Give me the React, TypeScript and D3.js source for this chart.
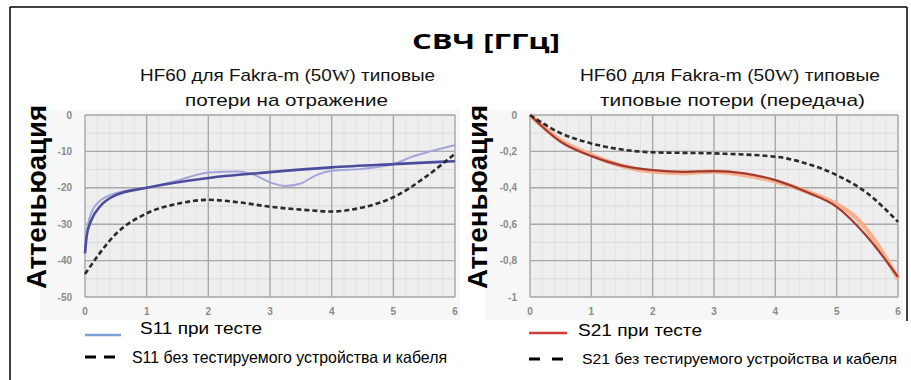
import * as d3 from 'd3';

// frequency, GHz
const freqTicks = [0, 1, 2, 3, 4, 5, 6];
const s11Ticks = [0, -10, -20, -30, -40, -50];
const s21Ticks = [0, -0.2, -0.4, -0.6, -0.8, -1];

// S11 (return loss), dB
const s11FitF = [0, 0.03, 0.1, 0.25, 0.5, 1, 2, 3, 4, 5, 6];
const s11FitV = [-38, -33, -29, -25, -22, -20, -17.3, -15.7, -14.4, -13.5, -12.7];
const s11MeasF = [0, 0.05, 0.1, 0.25, 0.5, 0.75, 1, 1.5, 2, 2.5, 2.75, 3, 3.25, 3.5, 3.75, 4, 4.5, 5, 5.3, 5.6, 6];
const s11MeasV = [-36, -30, -27, -23.5, -21.5, -20.5, -20, -18, -15.8, -15.5, -16.5, -18.5, -19.5, -18.8, -16.5, -15.3, -14.8, -13.5, -11.5, -10, -8.3];
const s11RefF = [0, 0.5, 1, 1.5, 2, 2.5, 3, 3.5, 4, 4.5, 5, 5.5, 6];
const s11RefV = [-43.7, -32.7, -27, -24.4, -23.3, -24, -25.2, -26, -26.5, -25.4, -22.6, -17.3, -10.6];

// S21 (insertion loss), dB
const s21FitF = [0, 0.5, 1, 1.5, 2, 2.5, 3, 3.5, 4, 4.5, 5, 5.5, 6];
const s21FitV = [0, -0.147, -0.226, -0.278, -0.303, -0.312, -0.308, -0.321, -0.358, -0.422, -0.505, -0.67, -0.89];
const s21MeasF = [0, 0.5, 1, 1.5, 2, 2.5, 3, 3.5, 4, 4.5, 5, 5.3, 5.6, 6];
const s21MeasV = [0, -0.14, -0.22, -0.28, -0.31, -0.318, -0.31, -0.33, -0.365, -0.42, -0.49, -0.56, -0.68, -0.9];
const s21RefF = [0, 0.5, 1, 1.5, 2, 3, 4, 4.5, 5, 5.5, 6];
const s21RefV = [0, -0.1, -0.156, -0.19, -0.205, -0.211, -0.229, -0.266, -0.33, -0.43, -0.587];

const zip = (f: number[], v: number[]) => f.map((x, i) => [x, v[i]] as [number, number]);

const narrow = '"Liberation Sans Narrow", "Liberation Sans", Arial, sans-serif';

function Panel({ x0, x1, ymin, ticks, fmt, minorY, series, label, labelX }: any) {
  const top = 115;
  const bottom = 297;
  const x = d3.scaleLinear().domain([0, 6]).range([x0, x1]);
  const y = d3.scaleLinear().domain([ymin, 0]).range([bottom, top]);
  const line = d3
    .line<[number, number]>()
    .x((d) => x(d[0]))
    .y((d) => y(d[1]))
    .curve(d3.curveMonotoneX);
  const minorX = d3.range(0, 6.001, 0.2);
  const minorYs = d3.range(ymin, 0.0001, minorY);

  return (
    <g>
      <rect x={x0 - 45} y={110} width={x1 - x0 + 50} height={210} fill="#f7f7f7" />
      <rect x={x0} y={top} width={x1 - x0} height={bottom - top} fill="#eeeeee" />
      {minorX.map((v: number) => (
        <line key={'mx' + v} x1={x(v)} x2={x(v)} y1={top} y2={bottom} stroke="#dedede" strokeWidth={0.8} />
      ))}
      {minorYs.map((v: number) => (
        <line key={'my' + v} x1={x0} x2={x1} y1={y(v)} y2={y(v)} stroke="#d6d6d6" strokeWidth={0.8} />
      ))}
      {freqTicks.map((v) => (
        <line key={'gx' + v} x1={x(v)} x2={x(v)} y1={top} y2={bottom} stroke="#a9a9a9" strokeWidth={1.4} />
      ))}
      {ticks.map((v: number) => (
        <line key={'gy' + v} x1={x0} x2={x1} y1={y(v)} y2={y(v)} stroke="#a9a9a9" strokeWidth={1.4} />
      ))}
      {ticks.map((v: number) => (
        <text key={'ty' + v} x={x0 - 13} y={y(v)} dy="0.35em" textAnchor="end" fontSize={10} fontWeight="bold"
          fill="#8a8a8a" fontFamily="Arial, sans-serif">
          {fmt(v)}
        </text>
      ))}
      {freqTicks.map((v) => (
        <text key={'tx' + v} x={x(v)} y={311} dy="0.35em" textAnchor="middle" fontSize={10} fontWeight="bold"
          fill="#8a8a8a" fontFamily="Arial, sans-serif">
          {v}
        </text>
      ))}
      {series.map((s: any, i: number) => (
        <path key={i} d={line(zip(s.f, s.v)) || ''} fill="none" stroke={s.color} strokeWidth={s.width}
          strokeDasharray={s.dash || null} strokeLinecap="butt" />
      ))}
      <text transform={`translate(${labelX},197) rotate(-90)`} textAnchor="middle"
        fontSize={28} fontWeight="bold" fontFamily='"Liberation Sans", Arial, sans-serif' fill="#000"
        textLength={184} lengthAdjust="spacingAndGlyphs">
        {label}
      </text>
    </g>
  );
}

function Subtitle({ x, y, w, children }: any) {
  return (
    <text x={x} y={y} fontSize={17} fontFamily={narrow} fill="#111" textLength={w} lengthAdjust="spacingAndGlyphs">
      {children}
    </text>
  );
}

export default function App() {
  const fmt21 = (v: number) => String(v).replace('.', ',');
  return (
    <svg width={911} height={380} style={{ position: 'absolute', left: 0, top: 0 }}>
      <rect width={911} height={380} fill="#fff" />
      <line x1={10} x2={10} y1={7} y2={380} stroke="#000" strokeWidth={1.5} />
      <line x1={10} x2={907} y1={7} y2={7} stroke="#000" strokeWidth={1.5} />
      <line x1={907} x2={907} y1={7} y2={321} stroke="#000" strokeWidth={1.5} />

      <text x={412} y={49} fontSize={22} fontWeight="bold" fontFamily='"Open Sans", "DejaVu Sans", sans-serif'
        textLength={148} lengthAdjust="spacingAndGlyphs">
        СВЧ [ГГц]
      </text>

      <Subtitle x={140} y={81} w={295}>
        HF60 для Fakra-m (50<tspan fontFamily='"Liberation Serif", serif'>W</tspan>) типовые
      </Subtitle>
      <Subtitle x={185} y={106} w={203}>потери на отражение</Subtitle>
      <Subtitle x={580} y={81} w={300}>
        HF60 для Fakra-m (50<tspan fontFamily='"Liberation Serif", serif'>W</tspan>) типовые
      </Subtitle>
      <Subtitle x={600} y={106} w={265}>типовые потери (передача)</Subtitle>

      <Panel x0={85} x1={455} ymin={-50} ticks={s11Ticks} minorY={5} fmt={(v: number) => String(v)}
        label="Аттеньюация" labelX={46}
        series={[
          { f: s11MeasF, v: s11MeasV, color: '#a4a4dc', width: 2 },
          { f: s11FitF, v: s11FitV, color: '#4c4c9c', width: 2.6 },
          { f: s11RefF, v: s11RefV, color: '#2a2a2a', width: 2.6, dash: '5,3' },
        ]}
      />
      <Panel x0={530} x1={898} ymin={-1} ticks={s21Ticks} minorY={0.1} fmt={fmt21}
        label="Аттеньюация" labelX={487}
        series={[
          { f: s21MeasF, v: s21MeasV, color: '#f5b08e', width: 4.5 },
          { f: s21FitF, v: s21FitV, color: '#a23a30', width: 2.2 },
          { f: s21RefF, v: s21RefV, color: '#2a2a2a', width: 2.6, dash: '5,3' },
        ]}
      />

      {/* legends */}
      <line x1={85} x2={121} y1={335} y2={335} stroke="#7ea2d8" strokeWidth={2.5} />
      <text x={140} y={334} fontSize={17} fontFamily={narrow} textLength={122} lengthAdjust="spacingAndGlyphs">
        S11 при тесте
      </text>
      <line x1={85} x2={117} y1={357} y2={357} stroke="#000" strokeWidth={3} strokeDasharray="11,8" />
      <text x={132} y={363} fontSize={16.5} fontFamily={narrow} textLength={315} lengthAdjust="spacingAndGlyphs">
        S11 без тестируемого устройства и кабеля
      </text>

      <line x1={529} x2={567} y1={333} y2={333} stroke="#d03a3a" strokeWidth={2.5} />
      <text x={578} y={336} fontSize={17} fontFamily={narrow} textLength={124} lengthAdjust="spacingAndGlyphs">
        S21 при тесте
      </text>
      <line x1={529} x2={563} y1={359} y2={359} stroke="#000" strokeWidth={3} strokeDasharray="11,12" />
      <text x={582} y={364} fontSize={15} fontFamily={narrow} textLength={315} lengthAdjust="spacingAndGlyphs">
        S21 без тестируемого устройства и кабеля
      </text>
    </svg>
  );
}
